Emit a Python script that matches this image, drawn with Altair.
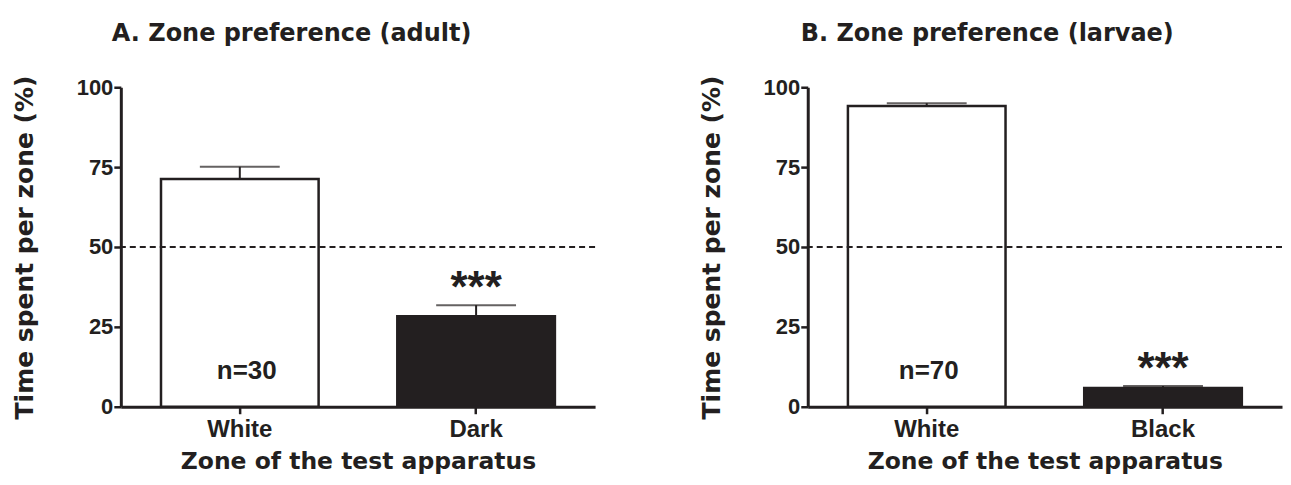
import altair as alt
import pandas as pd

# ---- data ----
a_zones = ["White", "Dark"]
a_means = [71.3, 28.3]
a_upper = [75.1, 31.8]
a_n = "n=30"

b_zones = ["White", "Black"]
b_means = [94.1, 5.9]
b_upper = [95.0, 6.5]
b_n = "n=70"

y_ticks = [0, 25, 50, 75, 100]
chance_level = 50
stars = "***"

INK = "#231f20"
FONT = "Liberation Sans"
WIDE = "DejaVu Sans"


def panel(zones, means, upper, n_label, title, n_dx, t_dx):
    df = pd.DataFrame({"Zone": zones, "Mean": means, "Upper": upper})
    x = alt.X("Zone:N", sort=zones,
              scale=alt.Scale(paddingInner=0.333, paddingOuter=0.17),
              axis=alt.Axis(title="Zone of the test apparatus", labelAngle=0,
                            labelFontSize=24, labelPadding=4, labelFont=FONT,
                            titleFontSize=23.5, titlePadding=8, titleFont=WIDE,
                            tickSize=7, tickWidth=2.5))
    yscale = alt.Scale(domain=[0, 100], nice=False)
    yaxis = alt.Axis(title="Time spent per zone (%)", values=y_ticks,
                     labelFontSize=22, labelPadding=1, labelFont=FONT,
                     tickSize=7, tickWidth=2.5,
                     titleFontSize=25, titlePadding=39, titleFont=WIDE)
    base = alt.Chart(df)
    bars = base.mark_bar(stroke=INK, strokeWidth=2.5).encode(
        x=x,
        y=alt.Y("Mean:Q", scale=yscale, axis=yaxis),
        fill=alt.Fill("Zone:N", scale=alt.Scale(domain=zones, range=["white", INK]),
                      legend=None),
    )
    err = base.mark_rule(color=INK, strokeWidth=2).encode(
        x=alt.X("Zone:N", sort=zones), y="Mean:Q", y2="Upper:Q")
    cap = base.mark_tick(color=INK, size=80, thickness=2).encode(
        x=alt.X("Zone:N", sort=zones), y="Upper:Q")
    dash = alt.Chart(pd.DataFrame({"level": [chance_level]})).mark_rule(
        color=INK, strokeWidth=2, strokeDash=[6, 4]).encode(y="level:Q")
    ntext = alt.Chart(pd.DataFrame({"Zone": [zones[0]], "label": [n_label], "pos": [8.7]})).mark_text(
        font=FONT, fontWeight="bold", fontSize=26, color=INK, baseline="alphabetic", dx=n_dx
    ).encode(x=alt.X("Zone:N", sort=zones), y="pos:Q", text="label:N")
    star = alt.Chart(pd.DataFrame({"Zone": [zones[1]], "Upper": [upper[1]], "s": [stars]})).mark_text(
        font=FONT, fontWeight="bold", fontSize=44, color=INK, baseline="alphabetic", dy=-3
    ).encode(x=alt.X("Zone:N", sort=zones), y="Upper:Q", text="s:N")
    return alt.layer(bars, dash, err, cap, ntext, star).properties(
        width=475, height=320,
        title=alt.TitleParams(title, anchor="start", frame="group", dx=t_dx,
                              fontSize=24, font=WIDE, fontWeight="bold",
                              color=INK, offset=29),
    )


chart = alt.hconcat(
    panel(a_zones, a_means, a_upper, a_n, "A. Zone preference (adult)", 7, -9),
    panel(b_zones, b_means, b_upper, b_n, "B. Zone preference (larvae)", 2, -7),
    spacing=213, bounds="flush",
).resolve_scale(fill="independent").properties(
    padding={"left": 4, "top": 13, "right": 0, "bottom": 0}
).configure_view(stroke=None
).configure_axis(
    grid=False, domainColor=INK, domainWidth=3, tickColor=INK,
    labelColor=INK, titleColor=INK,
    labelFontWeight="bold", titleFontWeight="bold",
)

chart.save("out.html", embed_options={"renderer": "svg", "actions": False})
